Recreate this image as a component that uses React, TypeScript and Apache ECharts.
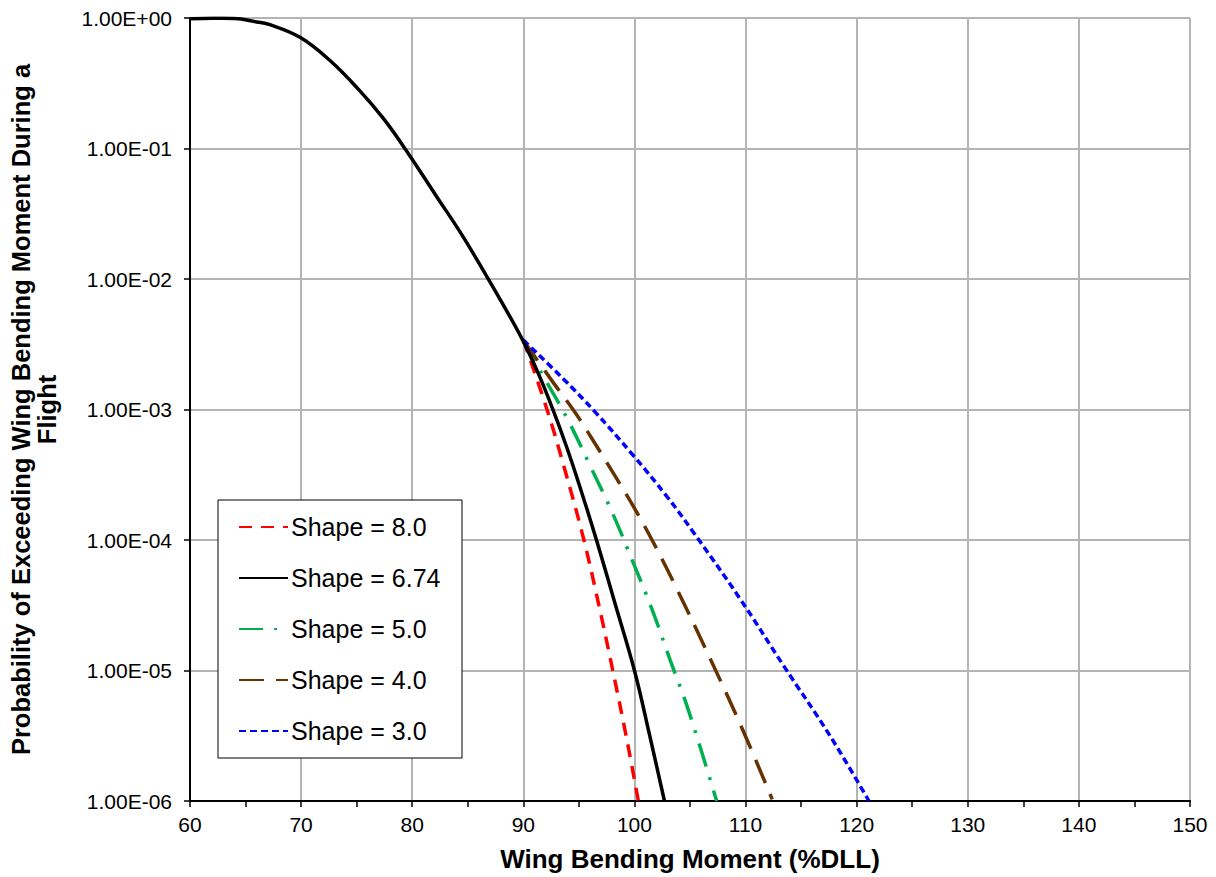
import React, { useEffect, useRef } from "react";
import * as echarts from "echarts";

// Wing bending moment (%DLL) vs probability of exceedance
const shape674: [number, number][] = [
  [60, 0.985], [62, 0.995], [64, 0.993], [66, 0.933], [67.2, 0.889], [69.9, 0.711],
  [72.6, 0.472], [75.23, 0.28], [77.4, 0.17], [79.43, 0.0975], [82.13, 0.0437],
  [84.53, 0.0214], [86.64, 0.0107], [88.0, 0.00676], [89.94, 0.0034],
  [91.44, 1.81e-3], [92.64, 1.01e-3], [93.85, 5.3e-4], [95.05, 2.62e-4],
  [96.55, 1.02e-4], [98.3, 3.16e-5], [100, 1.0e-5], [101.35, 3.24e-6], [102.7, 1.0e-6],
];
const shape80: [number, number][] = [
  [90, 0.0034], [92.13, 1.0e-3], [93.8, 3.3e-4], [95.45, 1.0e-4],
  [96.8, 3.16e-5], [98.05, 1.0e-5], [99.25, 3.16e-6], [100.35, 1.0e-6],
];
const shape50: [number, number][] = [
  [90, 0.0034], [91.68, 1.87e-3], [94.0, 8.36e-4], [96.04, 3.66e-4], [98.05, 1.59e-4],
  [99.85, 6.82e-5], [101.6, 2.92e-5], [103.2, 1.21e-5], [104.8, 5.13e-6], [107.4, 1.0e-6],
];
const shape40: [number, number][] = [
  [90, 0.0034], [92.6, 1.65e-3], [94.66, 9.48e-4], [96.52, 5.37e-4], [98.36, 2.99e-4],
  [100.16, 1.66e-4], [101.78, 9.29e-5], [103.8, 4.25e-5], [106.8, 1.24e-5],
  [109.67, 3.63e-6], [112.4, 1.03e-6],
];
const shape30: [number, number][] = [
  [90, 0.0034], [93.54, 1.738e-3], [96.47, 9.55e-4], [99.87, 4.47e-4], [102.86, 2.19e-4],
  [105.3, 1.148e-4], [109.5, 3.55e-5], [113.4, 1.096e-5], [117.6, 3.16e-6], [121.1, 1.0e-6],
];

const seriesNames = ["Shape = 8.0", "Shape = 6.74", "Shape = 5.0", "Shape = 4.0", "Shape = 3.0"];
const xTitle = "Wing Bending Moment (%DLL)";
const yTitle = "Probability of Exceeding Wing Bending Moment During a\nFlight";

const FONT = 'Arial, "Liberation Sans", sans-serif';

function fmtExp(v: number): string {
  const e = Math.round(Math.log10(v));
  return "1.00E" + (e >= 0 ? "+" : "-") + String(Math.abs(e)).padStart(2, "0");
}

export default function App() {
  const ref = useRef<HTMLDivElement>(null);
  useEffect(() => {
    if (!ref.current) return;
    const chart = echarts.init(ref.current, undefined, { renderer: "svg" });
    const mk = (name: string, data: [number, number][], color: string, type: any, z = 2) => ({
      name,
      type: "line",
      data,
      smooth: 0.4,
      showSymbol: false,
      symbol: "none",
      z,
      lineStyle: { color, width: 3.5, type, cap: "butt" },
      itemStyle: { color },
    });
    chart.setOption({
      animation: false,
      backgroundColor: "#fff",
      grid: {
        left: 190, right: 26, top: 18, bottom: 73,
        show: true, borderColor: "#404040", borderWidth: 1,
      },
      xAxis: {
        type: "value", min: 60, max: 150, interval: 10,
        name: xTitle, nameLocation: "middle", nameGap: 45,
        nameTextStyle: { fontFamily: FONT, fontSize: 26, fontWeight: "bold", color: "#000" },
        axisLine: { show: true, lineStyle: { color: "#000", width: 2 } },
        axisTick: { show: true, inside: false, length: 6, lineStyle: { color: "#000", width: 1.5 } },
        minorTick: { show: true, splitNumber: 2, length: 6, lineStyle: { color: "#000", width: 1.5 } },
        axisLabel: { fontFamily: FONT, fontSize: 21, color: "#000", margin: 13 },
        splitLine: { show: true, lineStyle: { color: "#b4b4b4", width: 2 } },
      },
      yAxis: {
        type: "log", logBase: 10, min: 1e-6, max: 1,
        name: yTitle, nameLocation: "middle", nameRotate: 90, nameGap: 130,
        nameTextStyle: { fontFamily: FONT, fontSize: 25.5, fontWeight: "bold", color: "#000", lineHeight: 26 },
        axisLine: { show: true, lineStyle: { color: "#000", width: 2 } },
        axisTick: { show: true, inside: false, length: 6, lineStyle: { color: "#000", width: 1.5 } },
        axisLabel: { fontFamily: FONT, fontSize: 21, color: "#000", margin: 18, formatter: fmtExp },
        splitLine: { show: true, lineStyle: { color: "#b4b4b4", width: 2 } },
      },
      legend: {
        orient: "vertical", left: 238, top: 513,
        itemWidth: 49, itemHeight: 14, itemGap: 23, padding: 0,
        textStyle: { fontFamily: FONT, fontSize: 25, color: "#000", lineHeight: 28, padding: [0, 0, 0, -2] },
        itemStyle: { opacity: 0, borderWidth: 0 },
        data: seriesNames,
        z: 5,
      },
      graphic: [
        {
          type: "rect", z: 4,
          shape: { x: 218, y: 500, width: 244, height: 258 },
          style: { fill: "#fff", stroke: "#000", lineWidth: 1 },
        },
      ],
      series: [
        mk(seriesNames[0], shape80, "#ff0000", [13, 9]),
        mk(seriesNames[1], shape674, "#000000", "solid", 3),
        mk(seriesNames[2], shape50, "#00b050", [24, 11, 3, 11]),
        mk(seriesNames[3], shape40, "#663300", [25, 12]),
        mk(seriesNames[4], shape30, "#0000ff", [7, 4]),
      ],
    });
    return () => chart.dispose();
  }, []);
  return (
    <div
      ref={ref}
      style={{ position: "fixed", left: 0, top: 0, width: 1216, height: 877, background: "#fff" }}
    />
  );
}
